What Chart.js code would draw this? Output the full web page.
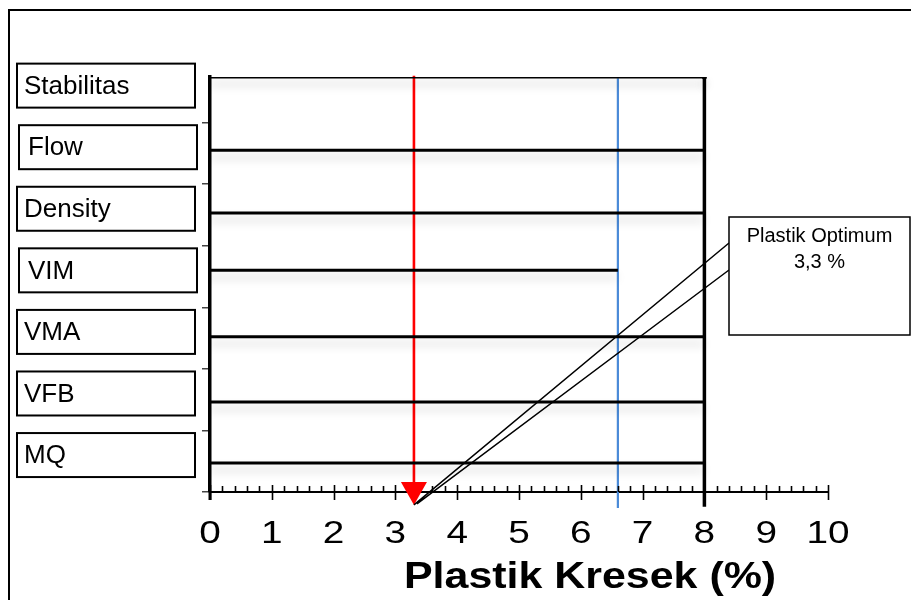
<!DOCTYPE html>
<html lang="id">
<head>
  <meta charset="UTF-8" />
  <title>Plastik Optimum</title>
  <script src="https://cdn.jsdelivr.net/npm/chart.js"></script>
  <style>
    body { margin: 0; background: #fff; }
    canvas { display: block; }
  </style>
</head>
<body>
  <canvas id="chart" width="911" height="600"></canvas>
  <script>
    // property rows, top to bottom
    const categories = ['Stabilitas', 'Flow', 'Density', 'VIM', 'VMA', 'VFB', 'MQ'];
    // level of each horizontal bar (y scale units) and its x extent (% plastik)
    const barLevels = [6.74, 5.55, 4.53, 3.6, 2.52, 1.46, 0.47];
    const barStart = [0, 0, 0, -0.08, 0, 0, 0];
    const barEnd = [8, 8, 8, 6.6, 8, 8, 8];

    const optimum = 3.3;      // red arrow
    const blueLine = 6.6;     // blue marker
    const rangeEnd = 8;       // right border of the range
    const xTickLabels = ['0', '1', '2', '3', '4', '5', '6', '7', '8', '9', '10'];
    const calloutText = ['Plastik Optimum', '3,3 %'];
    const axisTitle = 'Plastik Kresek (%)';

    const FONT = '"Liberation Sans", Arial, sans-serif';
    const arrowTip = -0.21;

    const datasets = categories.map((c, i) => ({
      label: c,
      data: [{ x: barStart[i], y: barLevels[i] }, { x: barEnd[i], y: barLevels[i] }],
      borderColor: '#000',
      borderWidth: 3,
      pointRadius: i === 0 ? [0, 2.5] : 0,
      pointBackgroundColor: '#000',
      pointBorderWidth: 0,
      shadow: true
    }));
    datasets.push({
      label: 'range',
      data: [{ x: rangeEnd, y: barLevels[0] }, { x: rangeEnd, y: -0.24 }],
      borderColor: '#000', borderWidth: 3.5, pointRadius: 0, clip: false
    });
    datasets.push({
      label: 'blue',
      data: [{ x: blueLine, y: 6.72 }, { x: blueLine, y: -0.26 }],
      borderColor: '#4a8ad8', borderWidth: 2.2, pointRadius: 0, clip: false
    });
    datasets.push({
      label: 'optimum',
      data: [{ x: optimum, y: 6.76 }, { x: optimum, y: 0.15 }],
      borderColor: '#ff0000', borderWidth: 2.6, pointRadius: 0, clip: false
    });

    const decor = {
      id: 'decor',
      beforeDraw(chart) {
        const ctx = chart.ctx;
        ctx.save();
        ctx.fillStyle = '#fff';
        ctx.fillRect(0, 0, chart.width, chart.height);
        // page frame
        ctx.strokeStyle = '#000';
        ctx.lineWidth = 2;
        ctx.beginPath();
        ctx.moveTo(9, 600); ctx.lineTo(9, 10); ctx.lineTo(911, 10);
        ctx.stroke();
        ctx.restore();
      },
      beforeDatasetDraw(chart, args) {
        if (args.meta._dataset.shadow) {
          chart.ctx.save();
          chart.ctx.shadowColor = 'rgba(0,0,0,0.18)';
          chart.ctx.shadowBlur = 10;
          chart.ctx.shadowOffsetY = 7;
        }
      },
      afterDatasetDraw(chart, args) {
        if (args.meta._dataset.shadow) chart.ctx.restore();
      },
      afterDraw(chart) {
        const ctx = chart.ctx;
        const xs = chart.scales.x, ys = chart.scales.y;
        const base = ys.getPixelForValue(0);
        ctx.save();

        // x axis ticks: minor above the line, major across it
        ctx.strokeStyle = '#000';
        ctx.lineWidth = 1.6;
        for (let v = 0; v <= 10.001; v += 0.2) {
          const p = Math.round(xs.getPixelForValue(v)) + 0.5;
          const major = Math.abs(v - Math.round(v)) < 0.01;
          ctx.beginPath();
          ctx.moveTo(p, major ? base - 7 : base - 6);
          ctx.lineTo(p, major ? base + 8 : base);
          ctx.stroke();
        }
        // left axis extends a little below
        ctx.lineWidth = 3;
        ctx.beginPath();
        ctx.moveTo(xs.getPixelForValue(0), base);
        ctx.lineTo(xs.getPixelForValue(0), base + 8);
        ctx.stroke();

        // tick labels (wide type)
        ctx.fillStyle = '#000';
        ctx.textAlign = 'center';
        ctx.textBaseline = 'middle';
        ctx.font = '31px ' + FONT;
        xs.ticks.forEach((t, i) => {
          ctx.save();
          ctx.translate(xs.getPixelForValue(t.value), 534);
          ctx.scale(1.25, 1);
          ctx.fillText(xTickLabels[i], 0, 0);
          ctx.restore();
        });

        // axis title
        ctx.save();
        ctx.translate(xs.getPixelForValue(6.15), 578);
        ctx.scale(1.16, 1);
        ctx.font = 'bold 37px ' + FONT;
        ctx.fillText(axisTitle, 0, 0);
        ctx.restore();

        // red arrow head
        const ox = xs.getPixelForValue(optimum);
        const tipY = ys.getPixelForValue(arrowTip);
        ctx.fillStyle = '#ff0000';
        ctx.beginPath();
        ctx.moveTo(ox, tipY);
        ctx.lineTo(ox - 13, tipY - 23);
        ctx.lineTo(ox + 13, tipY - 23);
        ctx.closePath();
        ctx.fill();

        // category label boxes
        ctx.lineWidth = 2;
        ctx.strokeStyle = '#000';
        ctx.fillStyle = '#000';
        ctx.textAlign = 'left';
        ctx.font = '26px ' + FONT;
        categories.forEach((c, i) => {
          const cy = ys.getPixelForValue(categories.length - 1 - i + 0.6);
          const shift = (i === 1 || i === 3) ? 2 : 0;
          ctx.strokeRect(17 + shift, cy - 22, 178, 44);
          ctx.fillText(c, 24 + shift * 2, cy + 1);
        });

        // callout box and leader lines
        const bx = 729, by = 217, bw = 181, bh = 118;
        ctx.lineWidth = 1.5;
        ctx.beginPath();
        ctx.moveTo(bx, by + 26); ctx.lineTo(ox, tipY);
        ctx.moveTo(bx, by + 53); ctx.lineTo(ox + 3, tipY - 1);
        ctx.stroke();
        ctx.fillStyle = '#fff';
        ctx.fillRect(bx, by, bw, bh);
        ctx.strokeRect(bx, by, bw, bh);
        ctx.fillStyle = '#000';
        ctx.textAlign = 'center';
        ctx.font = '20px ' + FONT;
        ctx.fillText(calloutText[0], bx + bw / 2, by + 19);
        ctx.fillText(calloutText[1], bx + bw / 2, by + 45);
        ctx.restore();
      }
    };

    new Chart(document.getElementById('chart').getContext('2d'), {
      type: 'line',
      data: { datasets },
      options: {
        responsive: false,
        animation: false,
        layout: { padding: { left: 200, right: 83, top: 77, bottom: 0 } },
        plugins: { legend: { display: false }, tooltip: { enabled: false } },
        scales: {
          x: {
            type: 'linear', min: 0, max: 10,
            ticks: { stepSize: 1, display: false },
            grid: { display: false },
            border: { display: true, color: '#000', width: 2 },
            afterFit: s => { s.height = 108; }
          },
          y: {
            type: 'linear', min: 0, max: 6.74,
            ticks: { stepSize: 1, display: false },
            afterBuildTicks: s => { s.ticks = s.ticks.filter(t => Number.isInteger(t.value)); },
            grid: { drawOnChartArea: false, tickLength: 8, color: '#444', lineWidth: 1.5 },
            border: { display: true, color: '#000', width: 3.5 },
            afterFit: s => { s.width = 10; }
          }
        }
      },
      plugins: [decor]
    });
  </script>
</body>
</html>
